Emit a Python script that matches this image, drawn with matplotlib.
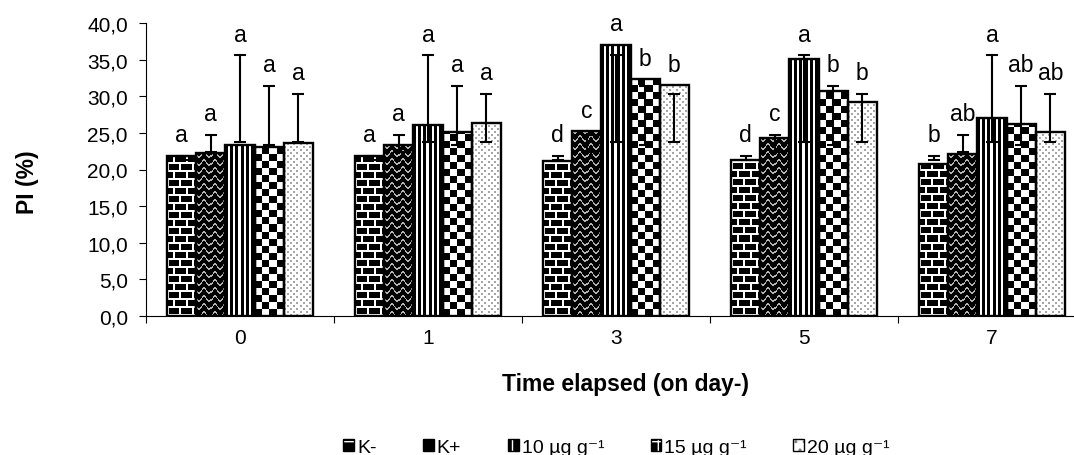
import numpy as np
import matplotlib
matplotlib.use("Agg")
import matplotlib.pyplot as plt
from matplotlib.patches import Patch
from matplotlib.legend_handler import HandlerTuple

plt.rcParams['font.family'] = ['Liberation Sans', 'DejaVu Sans']
plt.rcParams['hatch.linewidth'] = 1.0

# data
days = ['0', '1', '3', '5', '7']
treatments = ['K-', 'K+', '10 µg g⁻¹', '15 µg g⁻¹', '20 µg g⁻¹']

pi_kminus = [21.8, 21.8, 21.1, 21.3, 20.8]
pi_kplus = [22.2, 23.4, 25.2, 24.3, 22.1]
pi_10 = [23.4, 26.1, 37.0, 35.1, 27.0]
pi_15 = [23.1, 25.1, 32.3, 30.7, 26.2]
pi_20 = [23.6, 26.3, 31.5, 29.2, 25.1]

# error bar ends (same span on every day in the original chart)
err_low = [21.3, 22.4, 23.7, 23.4, 23.8]
err_high = [21.9, 24.7, 35.6, 31.4, 30.3]

letters_kminus = ['a', 'a', 'd', 'd', 'b']
letters_kplus = ['a', 'a', 'c', 'c', 'ab']
letters_10 = ['a', 'a', 'a', 'a', 'a']
letters_15 = ['a', 'a', 'b', 'b', 'ab']
letters_20 = ['a', 'a', 'b', 'b', 'ab']

ytick_values = [0, 5, 10, 15, 20, 25, 30, 35, 40]
ytick_labels = ['0,0', '5,0', '10,0', '15,0', '20,0', '25,0', '30,0', '35,0', '40,0']


# fill textures, one pixel per array cell
def bricks(h, w):
    y, x = np.mgrid[0:h, 0:w]
    row = y // 8
    img = np.zeros((h, w))
    img[(y % 8) < 2] = 1.0
    img[((x + (row % 2) * 6) % 12) < 2] = 1.0
    return img


def waves(h, w):
    y, x = np.mgrid[0:h, 0:w]
    d = (y + 2.5 * np.sin(2 * np.pi * x / 10.0)) % 8
    img = np.zeros((h, w))
    img[d < 1.8] = 0.7
    return img


def stripes(h, w):
    y, x = np.mgrid[0:h, 0:w]
    img = np.ones((h, w))
    img[(x % 5) < 3] = 0.0
    return img


def checker(h, w):
    y, x = np.mgrid[0:h, 0:w]
    return (((x // 7) + (y // 7)) % 2).astype(float)


def dots(h, w):
    y, x = np.mgrid[0:h, 0:w]
    img = np.ones((h, w))
    img[((x % 6) < 2) & ((y % 6) < 2)] = 0.65
    img[(((x + 3) % 6) < 2) & (((y + 3) % 6) < 2)] = 0.65
    return img


fig = plt.figure(figsize=(10.74, 4.56), dpi=100)
ax = fig.add_axes([146 / 1074, 139 / 456, 940 / 1074, 293 / 456])
ax.set_xlim(-0.5, 4.5)
ax.set_ylim(0, 40)

p0 = ax.transData.transform((0, 0))
p1 = ax.transData.transform((1, 1))
sx, sy = p1 - p0

series = [pi_kminus, pi_kplus, pi_10, pi_15, pi_20]
letters = [letters_kminus, letters_kplus, letters_10, letters_15, letters_20]
patterns = [bricks, waves, stripes, checker, dots]
x = np.arange(len(days))
width = 0.155

for i, vals in enumerate(series):
    xs = x + (i - 2) * width
    bars = ax.bar(xs, vals, width, facecolor='none', edgecolor='black',
                  linewidth=1.7, zorder=3)
    for bar in bars:
        x0, w, h = bar.get_x(), bar.get_width(), bar.get_height()
        npx_w = max(int(round(w * sx)), 1)
        npx_h = max(int(round(h * sy)), 1)
        ax.imshow(patterns[i](npx_h, npx_w), extent=(x0, x0 + w, 0, h),
                  origin='lower', cmap='gray', vmin=0, vmax=1,
                  interpolation='nearest', aspect='auto', zorder=2)
    mid = (err_low[i] + err_high[i]) / 2
    half = (err_high[i] - err_low[i]) / 2
    ax.errorbar(xs, [mid] * len(xs), yerr=half, fmt='none', ecolor='black',
                elinewidth=1.5, capsize=4, capthick=1.5, zorder=4)
    for xi, v, lab in zip(xs, vals, letters[i]):
        ax.text(xi, max(v, err_high[i]) + 2.0, lab, ha='center', va='baseline',
                fontsize=16.5, zorder=5)

ax.set_xlim(-0.5, 4.5)
ax.set_ylim(0, 40)
ax.set_xticks(x)
ax.set_xticklabels(days, fontsize=15)
ax.set_xticks(np.arange(-0.5, 5.0, 1.0), minor=True)
ax.tick_params(axis='x', which='major', length=0, pad=9)
ax.tick_params(axis='x', which='minor', length=5, width=0.8, direction='out')
ax.set_yticks(ytick_values)
ax.set_yticklabels(ytick_labels, fontsize=15)
ax.tick_params(axis='y', length=5, width=0.8, direction='out', pad=8)

for side in ['top', 'right']:
    ax.spines[side].set_visible(False)
ax.spines['left'].set_linewidth(0.8)
ax.spines['bottom'].set_linewidth(0.8)

ax.set_xlabel('Time elapsed (on day-)', fontsize=16.5, fontweight='bold')
ax.xaxis.set_label_coords(0.5106, -0.19)
ax.set_ylabel('PI (%)', fontsize=16.5, fontweight='bold')
ax.yaxis.set_label_coords(-0.114, 0.461)

hatch_style = [('black', 'white', '-'), ('black', 'white', '\\'),
               ('black', 'white', '||'), ('black', 'white', '+'),
               ('white', 'gray', '..')]
handles = []
for fc, hc, hatch in hatch_style:
    handles.append((Patch(facecolor=fc, edgecolor=hc, hatch=hatch, linewidth=0),
                    Patch(facecolor='none', edgecolor='black', linewidth=1.0)))

fig.legend(handles, treatments, handler_map={tuple: HandlerTuple(ndivide=1, pad=0)},
           loc='center', bbox_to_anchor=(0.574, 0.017), ncol=5, frameon=False,
           fontsize=14, handlelength=0.55, handleheight=0.55, handletextpad=0.15,
           columnspacing=2.4)

fig.savefig('out.png', dpi=100)
